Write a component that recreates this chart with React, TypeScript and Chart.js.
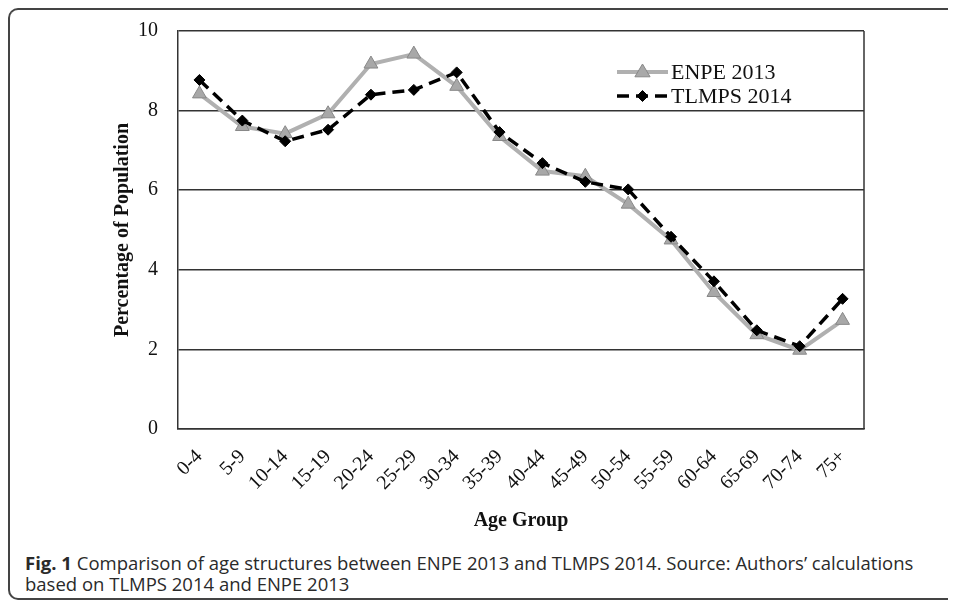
import React, { useEffect, useRef } from 'react';
import { Chart, registerables } from 'chart.js';

Chart.register(...registerables);

const categories = ['0-4', '5-9', '10-14', '15-19', '20-24', '25-29', '30-34', '35-39', '40-44', '45-49', '50-54', '55-59', '60-64', '65-69', '70-74', '75+'];
const enpe2013 = [8.42, 7.6, 7.42, 7.92, 9.17, 9.42, 8.61, 7.35, 6.48, 6.35, 5.65, 4.75, 3.43, 2.37, 1.98, 2.73];
const tlmps2014 = [8.77, 7.75, 7.23, 7.52, 8.4, 8.52, 8.96, 7.46, 6.68, 6.21, 6.02, 4.83, 3.71, 2.48, 2.08, 3.27];
const seriesNames = ['ENPE 2013', 'TLMPS 2014'];
const yMin = 0;
const yMax = 10;
const yStep = 2;
const yTitle = 'Percentage of Population';
const xTitle = 'Age Group';

const SERIF = "'Liberation Serif', 'Times New Roman', serif";

const frameLines = {
  id: 'frameLines',
  afterDatasetsDraw(chart: any) {
    const { ctx, chartArea } = chart;
    ctx.save();
    ctx.strokeStyle = '#333';
    ctx.lineWidth = 1.5;
    ctx.beginPath();
    ctx.moveTo(chartArea.right, chartArea.top);
    ctx.lineTo(chartArea.right, chartArea.bottom);
    ctx.stroke();
    ctx.restore();
  },
};

const customLegend = {
  id: 'customLegend',
  afterDraw(chart: any) {
    const { ctx } = chart;
    const x0 = 607;
    const x1 = 658;
    const xm = (x0 + x1) / 2;
    const rows = [62, 86];
    chart.data.datasets.forEach((ds: any, i: number) => {
      const y = rows[i];
      ctx.save();
      ctx.strokeStyle = ds.borderColor;
      ctx.lineWidth = ds.borderWidth;
      ctx.setLineDash(ds.borderDash || []);
      ctx.beginPath();
      ctx.moveTo(x0, y);
      ctx.lineTo(x1, y);
      ctx.stroke();
      ctx.setLineDash([]);
      ctx.fillStyle = ds.pointBackgroundColor;
      ctx.strokeStyle = ds.pointBorderColor;
      ctx.lineWidth = 1;
      const r = ds.pointRadius;
      ctx.beginPath();
      if (ds.pointStyle === 'triangle') {
        ctx.moveTo(xm, y - r);
        ctx.lineTo(xm + r * 0.95, y + r * 0.6);
        ctx.lineTo(xm - r * 0.95, y + r * 0.6);
        ctx.closePath();
      } else {
        ctx.moveTo(xm, y - r);
        ctx.lineTo(xm + r, y);
        ctx.lineTo(xm, y + r);
        ctx.lineTo(xm - r, y);
        ctx.closePath();
      }
      ctx.fill();
      ctx.stroke();
      ctx.fillStyle = '#111';
      ctx.font = `22px ${SERIF}`;
      ctx.textBaseline = 'middle';
      ctx.textAlign = 'left';
      ctx.fillText(ds.label, x1 + 3, y + 1);
      ctx.restore();
    });
  },
};

function App() {
  const ref = useRef<HTMLCanvasElement | null>(null);

  useEffect(() => {
    if (!ref.current) return;
    const chart = new Chart(ref.current, {
      type: 'line',
      data: {
        labels: categories,
        datasets: [
          {
            label: seriesNames[0],
            data: enpe2013,
            borderColor: '#b0b0b0',
            borderWidth: 4,
            pointStyle: 'triangle',
            pointRadius: 8,
            pointBackgroundColor: '#a8a8a8',
            pointBorderColor: '#888888',
            pointBorderWidth: 1,
            tension: 0,
            order: 1,
          },
          {
            label: seriesNames[1],
            data: tlmps2014,
            borderColor: '#000000',
            borderWidth: 3.5,
            borderDash: [12, 7],
            pointStyle: 'rectRot',
            pointRadius: 5.5,
            pointBackgroundColor: '#000000',
            pointBorderColor: '#000000',
            pointBorderWidth: 1,
            tension: 0,
            order: 0,
          },
        ],
      },
      options: {
        responsive: false,
        animation: false,
        layout: { padding: { top: 21, right: 92, left: 0, bottom: 0 } },
        plugins: {
          legend: { display: false },
          tooltip: { enabled: false },
        },
        scales: {
          x: {
            type: 'category',
            offset: true,
            grid: { display: false, drawTicks: false },
            border: { color: '#333', width: 1.5 },
            ticks: {
              autoSkip: false,
              maxRotation: 45,
              minRotation: 45,
              padding: 16,
              color: '#111',
              font: { family: SERIF, size: 20 },
            },
            title: {
              display: true,
              text: xTitle,
              color: '#111',
              font: { family: SERIF, size: 20, weight: 'bold' },
              padding: { top: 0, bottom: 7 },
            },
            afterFit: (scale: any) => {
              scale.height = 111;
            },
          },
          y: {
            min: yMin,
            max: yMax,
            grid: { color: '#333', lineWidth: 1.5, drawTicks: false },
            border: { color: '#333', width: 1.5 },
            ticks: {
              stepSize: yStep,
              padding: 20,
              color: '#111',
              font: { family: SERIF, size: 20 },
            },
            title: {
              display: true,
              text: yTitle,
              color: '#111',
              font: { family: SERIF, size: 20, weight: 'bold' },
              padding: { top: 101, bottom: 0 },
            },
            afterFit: (scale: any) => {
              scale.width = 168;
              scale.paddingTop = 0;
              scale.paddingBottom = 0;
            },
          },
        },
      },
      plugins: [frameLines, customLegend],
    });
    return () => chart.destroy();
  }, []);

  return (
    <div
      style={{
        position: 'relative',
        width: 948,
        height: 592,
        boxSizing: 'border-box',
        borderLeft: '2px solid #444',
        borderTop: '2px solid #444',
        borderBottom: '2px solid #444',
        borderRadius: '10px 0 0 10px',
        overflow: 'hidden',
        background: '#fff',
      }}
    >
      <canvas ref={ref} width={946} height={530} style={{ position: 'absolute', left: 0, top: 0, width: 946, height: 530 }} />
      <div
        style={{
          position: 'absolute',
          left: 15,
          top: 542,
          width: 905,
          fontFamily: "'Open Sans', 'Noto Sans', sans-serif",
          fontSize: 18.5,
          lineHeight: '21px',
          color: '#2a2a2a',
        }}
      >
        <b>Fig. 1</b> Comparison of age structures between ENPE 2013 and TLMPS 2014. Source: Authors’ calculations based on TLMPS 2014 and ENPE 2013
      </div>
    </div>
  );
}

export default App;
